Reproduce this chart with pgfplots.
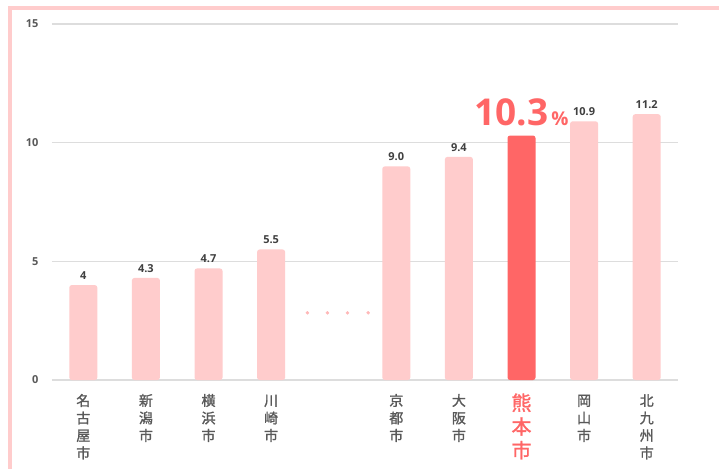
\documentclass[border=0pt]{standalone}
\usepackage{pgfplots}
\pgfplotsset{compat=1.18}
\usepackage{pgfplotstable}
\usepackage{fontspec}
\setmainfont{Open Sans}
\newfontfamily\cjk{Noto Sans CJK JP}[FakeBold=1.3]
\definecolor{barlight}{HTML}{FFCCCC}
\definecolor{barhi}{HTML}{FF6666}
\definecolor{gridc}{HTML}{DDDDDD}
\definecolor{tickc}{HTML}{595959}
\definecolor{valc}{HTML}{404040}
\definecolor{framec}{HTML}{FFCCCC}
\definecolor{dotc}{HTML}{FFB8B8}
\newcommand{\vt}[1]{\begin{tabular}{@{}c@{}}#1\end{tabular}}
\newcommand{\kuma}{{\color{barhi}\fontsize{20}{23}\selectfont\begin{tabular}{@{}c@{}}熊\\本\\市\end{tabular}}}

\pgfplotstableread{
x y lbl
0 4 4
1 4.3 4.3
2 4.7 4.7
3 5.5 5.5
5 9.0 9.0
6 9.4 9.4
8 10.9 10.9
9 11.2 11.2
}\lightdata

\begin{document}
\begin{tikzpicture}[x=1pt,y=1pt]
\useasboundingbox (-52,-88) rectangle (667,380);
\fill[white] (-52,-88) rectangle (667,380);
\draw[framec, line width=4pt] (-42,-95) -- (-42,372) -- (675,372);
\begin{axis}[
  at={(0,0)}, anchor=south west,
  scale only axis, width=626pt, height=356pt,
  xmin=-0.5, xmax=9.5, ymin=0, ymax=15,
  axis line style={draw=none},
  major tick length=0pt,
  ymajorgrids, grid style={gridc, line width=1.5pt},
  ytick={0,5,10,15}, yticklabels={0,5,10,15},
  yticklabel style={font=\bfseries\fontsize{11}{13}\selectfont, text=tickc, xshift=-10pt},
  xtick={0,1,2,3,5,6,7,8,9},
  xticklabels={\vt{名\\古\\屋\\市},\vt{新\\潟\\市},\vt{横\\浜\\市},\vt{川\\崎\\市},\vt{京\\都\\市},\vt{大\\阪\\市},\kuma,\vt{岡\\山\\市},\vt{北\\九\\州\\市}},
  xticklabel style={font=\cjk\fontsize{14}{17.5}\selectfont, text=tickc, anchor=north, yshift=-10pt},
  clip=false,
]
\addplot[ybar, bar shift=0pt, bar width=28pt, fill=barlight, draw=none, rounded corners=2.5pt,
  nodes near coords, point meta=explicit symbolic,
  every node near coord/.append style={font=\bfseries\fontsize{11}{13}\selectfont, text=valc, yshift=2pt, rounded corners=0pt}]
  table[x=x, y=y, meta=lbl] {\lightdata};
\addplot[ybar, bar shift=0pt, bar width=28pt, fill=barhi, draw=none, rounded corners=2.5pt,
  nodes near coords={\bfseries\fontsize{37}{37}\selectfont 10.3\fontsize{19}{19}\selectfont\,\%},
  every node near coord/.append style={text=barhi, yshift=6pt, rounded corners=0pt}]
  coordinates {(7,10.3)};
\addplot[only marks, mark=*, mark size=1.5pt, color=dotc]
  coordinates {(3.58,2.83) (3.9,2.83) (4.22,2.83) (4.55,2.83)};
\end{axis}
\end{tikzpicture}
\end{document}
